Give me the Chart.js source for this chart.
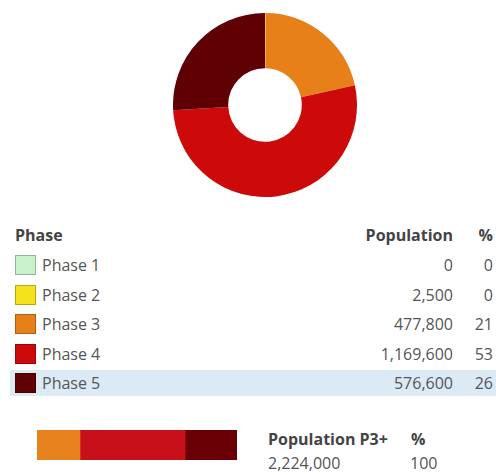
<!DOCTYPE html>
<html><head><meta charset="utf-8">
<script src="https://cdn.jsdelivr.net/npm/chart.js@4/dist/chart.umd.min.js"></script>
<style>
html,body{margin:0;padding:0;background:#fff;width:496px;height:475px;overflow:hidden;font-family:"Open Sans",sans-serif;color:#555;}
#donutWrap{position:absolute;left:173px;top:13px;width:184px;height:184px;}
#barWrap{position:absolute;left:37px;top:430px;width:200px;height:30px;}
.t{position:absolute;font-size:16px;line-height:20px;white-space:nowrap;}
.b{font-weight:bold;color:#444;}
.r{text-align:right;}
.sw{position:absolute;width:21px;height:20px;box-sizing:border-box;border:1px solid rgba(0,0,0,0.25);}
.hl{position:absolute;left:10px;width:486px;height:26px;background:#DCEAF6;}
</style></head>
<body>
<div id="donutWrap"><canvas id="donut"></canvas></div>
<div id="table"></div>
<div id="barWrap"><canvas id="bar"></canvas></div>
<div class="t b" style="left:268px;top:429px;">Population P3+</div>
<div class="t b" style="left:411px;top:429px;">%</div>
<div class="t" id="totPop" style="left:268px;top:453px;"></div>
<div class="t" id="totPct" style="left:410px;top:453px;"></div>
<script>
const phases = ["Phase 1","Phase 2","Phase 3","Phase 4","Phase 5"];
const population = [0, 2500, 477800, 1169600, 576600];
const percent = [0, 0, 21, 53, 26];
const colors = ["#C8F2CC","#F6E21A","#E8801A","#CC0A0A","#5E0004"];
const highlighted = "Phase 5";
const p3plusTotal = 2224000;
const p3plusPct = 100;

const fmt = n => n.toLocaleString("en-US");

// table
const tbl = document.getElementById("table");
let html = '';
html += '<div class="t b" style="left:15px;top:225px;">Phase</div>';
html += '<div class="t b r" style="left:320px;width:133px;top:225px;">Population</div>';
html += '<div class="t b r" style="left:460px;width:33px;top:225px;">%</div>';
const rowCenter0 = 265, rowH = 29.5;
phases.forEach((p,i)=>{
  const c = rowCenter0 + i*rowH;
  if(p===highlighted) html += `<div class="hl" style="top:${c-13}px;"></div>`;
  html += `<div class="sw" style="left:15px;top:${c-10}px;background:${colors[i]};"></div>`;
  html += `<div class="t" style="left:42px;top:${c-10}px;">${p}</div>`;
  html += `<div class="t r" style="left:320px;width:133px;top:${c-10}px;">${fmt(population[i])}</div>`;
  html += `<div class="t r" style="left:460px;width:33px;top:${c-10}px;">${percent[i]}</div>`;
});
tbl.innerHTML = html;
document.getElementById("totPop").textContent = fmt(p3plusTotal);
document.getElementById("totPct").textContent = p3plusPct;

// donut
new Chart(document.getElementById("donut"), {
  type: "doughnut",
  data: { labels: phases, datasets: [{ data: population, backgroundColor: colors, borderWidth: 0 }] },
  options: {
    responsive: true, maintainAspectRatio: false, animation: false,
    cutout: "40%",
    plugins: { legend: { display: false }, tooltip: { enabled: false } },
    layout: { padding: 0 }
  }
});

// stacked bar of P3+
const barPhases = phases.slice(2);
const barPop = population.slice(2);
const barColors = ["#E8821E","#C8101A","#6A0006"];
new Chart(document.getElementById("bar"), {
  type: "bar",
  data: {
    labels: ["P3+"],
    datasets: barPhases.map((p,i)=>({ label: p, data: [barPop[i]], backgroundColor: barColors[i], borderWidth: 0, barPercentage: 1, categoryPercentage: 1 }))
  },
  options: {
    indexAxis: "y", responsive: true, maintainAspectRatio: false, animation: false,
    scales: {
      x: { stacked: true, display: false, min: 0, max: barPop.reduce((a,b)=>a+b,0) },
      y: { stacked: true, display: false }
    },
    plugins: { legend: { display: false }, tooltip: { enabled: false } },
    layout: { padding: 0 }
  }
});
</script>
</body></html>
